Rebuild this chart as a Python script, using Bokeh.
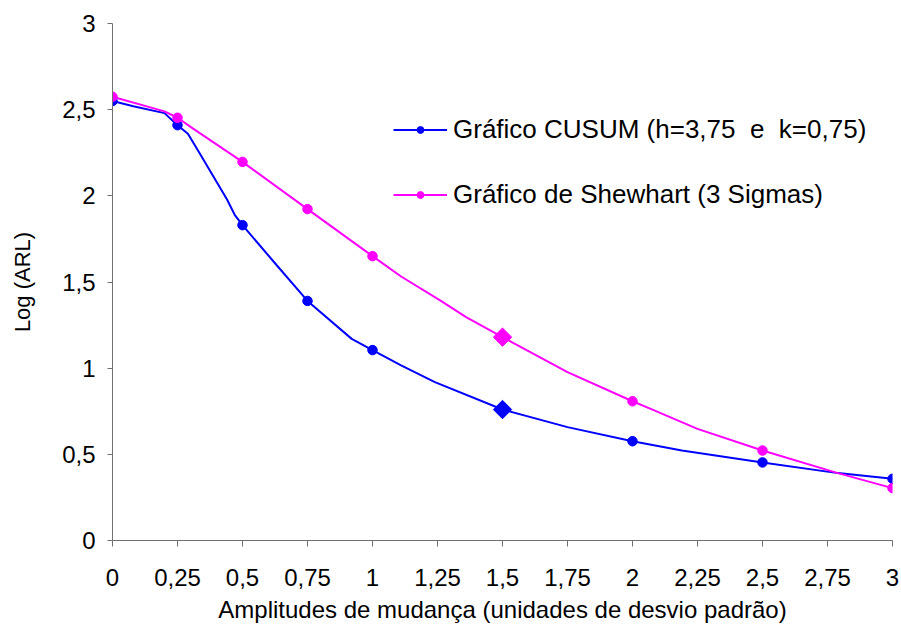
import numpy as np
from bokeh.plotting import figure
from bokeh.models import FixedTicker, Legend, LegendItem, Range1d
from bokeh.embed import file_html
from bokeh.resources import INLINE

# ---- data ----
# marked points
shift = [0, 0.25, 0.5, 0.75, 1, 2, 2.5, 3]
cusum = [2.55, 2.41, 1.83, 1.39, 1.105, 0.576, 0.453, 0.358]
shewhart = [2.575, 2.453, 2.197, 1.923, 1.65, 0.808, 0.522, 0.304]
# highlighted point (diamond)
hl_shift = [1.5]
hl_cusum = [0.76]
hl_shewhart = [1.18]
# traced curves
cusum_trace_x = [0, 0.08, 0.2, 0.25, 0.29, 0.33, 0.44, 0.47, 0.5, 0.63, 0.75, 0.92, 1, 1.11, 1.24,
                 1.5, 1.75, 2, 2.19, 2.5, 2.79, 3]
cusum_trace_y = [2.55, 2.52, 2.48, 2.41, 2.36, 2.26, 1.98, 1.89, 1.83, 1.60, 1.39, 1.17, 1.105, 1.016, 0.919,
                 0.76, 0.658, 0.576, 0.522, 0.453, 0.391, 0.358]
shew_trace_x = [0, 0.2, 0.25, 0.31, 0.5, 0.75, 1, 1.11, 1.26, 1.36, 1.5, 1.75, 2, 2.07, 2.25, 2.5, 2.79, 3]
shew_trace_y = [2.575, 2.49, 2.453, 2.39, 2.197, 1.923, 1.65, 1.532, 1.393, 1.296, 1.18, 0.977, 0.808,
                0.764, 0.648, 0.522, 0.391, 0.304]

x_ticks = [0, 0.25, 0.5, 0.75, 1, 1.25, 1.5, 1.75, 2, 2.25, 2.5, 2.75, 3]
x_tick_labels = ["0", "0,25", "0,5", "0,75", "1", "1,25", "1,5", "1,75", "2", "2,25", "2,5", "2,75", "3"]
y_ticks = [0, 0.5, 1, 1.5, 2, 2.5, 3]
y_tick_labels = ["0", "0,5", "1", "1,5", "2", "2,5", "3"]

series_names = ["Gráfico CUSUM (h=3,75  e  k=0,75)", "Gráfico de Shewhart (3 Sigmas)"]
x_title = "Amplitudes de mudança (unidades de desvio padrão)"
y_title = "Log (ARL)"

BLUE = "#0000FF"
MAGENTA = "#FF00FF"
FONT = "Liberation Sans"
AXIS_COLOR = "#707070"

p = figure(width=901, height=632, output_backend="svg", toolbar_location=None,
           x_range=Range1d(0, 3), y_range=Range1d(0, 3),
           min_border_left=112, min_border_right=9, min_border_top=23, min_border_bottom=92)
p.outline_line_color = None
p.grid.visible = False
p.background_fill_color = "white"
p.border_fill_color = "white"

# lines
l1 = p.line(cusum_trace_x, cusum_trace_y, line_color=BLUE, line_width=2)
l2 = p.line(shew_trace_x, shew_trace_y, line_color=MAGENTA, line_width=2)
m1 = p.scatter(shift, cusum, marker="circle", size=9.5, fill_color=BLUE, line_color=BLUE)
m2 = p.scatter(shift, shewhart, marker="circle", size=9.5, fill_color=MAGENTA, line_color=MAGENTA)
p.scatter(hl_shift, hl_cusum, marker="square", angle=np.pi / 4, size=13, fill_color=BLUE, line_color=BLUE)
p.scatter(hl_shift, hl_shewhart, marker="square", angle=np.pi / 4, size=13, fill_color=MAGENTA, line_color=MAGENTA)

legend = Legend(items=[LegendItem(label=series_names[0], renderers=[l1, m1]),
                       LegendItem(label=series_names[1], renderers=[l2, m2])],
                location=(281, 330), orientation="vertical",
                glyph_width=54, glyph_height=17, label_height=28, label_standoff=6,
                spacing=34, padding=0, margin=0,
                border_line_color=None, background_fill_alpha=0,
                label_text_font=FONT, label_text_font_size="26px", label_text_color="black")
p.add_layout(legend, "center")

# axes
p.xaxis.ticker = FixedTicker(ticks=x_ticks)
p.xaxis.major_label_overrides = {t: s for t, s in zip(x_ticks, x_tick_labels)}
p.yaxis.ticker = FixedTicker(ticks=y_ticks)
p.yaxis.major_label_overrides = {t: s for t, s in zip(y_ticks, y_tick_labels)}
p.xaxis.axis_label = x_title
p.yaxis.axis_label = y_title

for ax in (p.xaxis, p.yaxis):
    ax.axis_line_color = AXIS_COLOR
    ax.axis_line_width = 1
    ax.major_tick_line_color = AXIS_COLOR
    ax.minor_tick_line_color = None
    ax.major_tick_in = 0
    ax.major_label_text_font = FONT
    ax.major_label_text_font_size = "24px"
    ax.major_label_text_color = "black"
    ax.axis_label_text_font = FONT
    ax.axis_label_text_font_size = "24px"
    ax.axis_label_text_font_style = "normal"
    ax.axis_label_text_color = "black"

p.yaxis.axis_label_text_font_size = "22px"
p.xaxis.major_tick_out = 6
p.xaxis.major_label_standoff = 22
p.xaxis.axis_label_standoff = 7
p.yaxis.major_tick_out = 5
p.yaxis.major_label_standoff = 12
p.yaxis.axis_label_standoff = 24

open("out.html", "w").write(file_html(p, INLINE))
